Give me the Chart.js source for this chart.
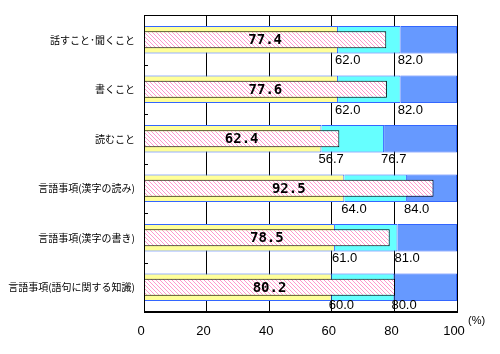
<!DOCTYPE html>
<html>
<head>
<meta charset="utf-8">
<script src="https://cdn.jsdelivr.net/npm/chart.js@4.4.1/dist/chart.umd.min.js"></script>
<style>
html,body{margin:0;padding:0;background:#fff;}
#wrap{width:500px;height:354px;position:relative;}
</style>
</head>
<body>
<div id="wrap"><canvas id="c" width="500" height="354"></canvas></div>
<script>
const categories = ['話すこと･聞くこと','書くこと','読むこと','言語事項(漢字の読み)','言語事項(漢字の書き)','言語事項(語句に関する知識)'];
const scores = [77.4, 77.6, 62.4, 92.5, 78.5, 80.2];
const lowerBounds = [62.0, 62.0, 56.7, 64.0, 61.0, 60.0];
const upperBounds = [82.0, 82.0, 76.7, 84.0, 81.0, 80.0];
const xTicks = [0, 20, 40, 60, 80, 100];
const unitLabel = '(%)';

function hatch() {
  const p = document.createElement('canvas');
  p.width = 4; p.height = 4;
  const g = p.getContext('2d');
  g.fillStyle = '#ffffff'; g.fillRect(0, 0, 4, 4);
  g.fillStyle = '#ff99cc';
  for (let i = 0; i < 4; i++) g.fillRect(i, i, 1, 1);
  return g.createPattern(p, 'repeat');
}
const ctx0 = document.getElementById('c').getContext('2d');

const BAND_BORDER = '#3366ff';
const bandPct = 0.555;

const overlay = {
  id: 'overlay',
  afterDatasetsDraw(chart) {
    const {ctx, chartArea: a, scales: {x, y}} = chart;
    const slot = (a.bottom - a.top) / categories.length;
    ctx.save();
    // frame
    ctx.strokeStyle = '#000'; ctx.lineWidth = 1;
    ctx.strokeRect(Math.round(a.left) + 0.5, Math.round(a.top) + 0.5,
                   Math.round(a.right - a.left), Math.round(a.bottom - a.top) - 1);
    // inner tick marks on category boundaries
    for (let i = 1; i < categories.length; i++) {
      const yy = Math.round(a.top + i * slot) + 0.5;
      ctx.beginPath(); ctx.moveTo(a.left, yy); ctx.lineTo(a.left + 4, yy); ctx.stroke();
    }
    // score labels inside hatched bars
    ctx.fillStyle = '#000';
    ctx.font = 'bold 14px "DejaVu Sans Mono"';
    ctx.textAlign = 'center'; ctx.textBaseline = 'middle';
    scores.forEach((v, i) => {
      const cx = (x.getPixelForValue(0) + x.getPixelForValue(v)) / 2;
      ctx.fillText(v.toFixed(1), cx, y.getPixelForValue(i) + 1);
    });
    // bound labels below bands
    ctx.font = '13px "Liberation Sans"';
    ctx.textAlign = 'left';
    lowerBounds.forEach((lo, i) => {
      const yy = Math.min(y.getPixelForValue(i) + slot / 2 - 4, a.bottom - 7);
      ctx.fillText(lo.toFixed(1), x.getPixelForValue(lo) - 3, yy);
      ctx.fillText(upperBounds[i].toFixed(1), x.getPixelForValue(upperBounds[i]) - 3, yy);
    });
    // unit
    ctx.font = '11px "Liberation Sans"';
    ctx.fillText(unitLabel, a.right + 11, a.bottom + 9);
    ctx.restore();
  }
};

new Chart(ctx0, {
  type: 'bar',
  data: {
    labels: categories,
    datasets: [
      {
        label: 'score', data: scores, order: 0, grouped: false,
        backgroundColor: hatch(), borderColor: '#000', borderWidth: 1,
        barPercentage: 0.34, categoryPercentage: 1
      },
      {
        label: 'low', data: lowerBounds.map(v => [0, v]), order: 1, grouped: false,
        backgroundColor: '#ffff99', borderColor: BAND_BORDER, borderWidth: 1,
        barPercentage: bandPct, categoryPercentage: 1
      },
      {
        label: 'mid', data: lowerBounds.map((v, i) => [v, upperBounds[i]]), order: 1, grouped: false,
        backgroundColor: '#66ffff', borderColor: BAND_BORDER, borderWidth: 1,
        barPercentage: bandPct, categoryPercentage: 1
      },
      {
        label: 'high', data: upperBounds.map(v => [v, 100]), order: 1, grouped: false,
        backgroundColor: '#6699ff', borderColor: BAND_BORDER, borderWidth: 1,
        barPercentage: bandPct, categoryPercentage: 1
      }
    ]
  },
  options: {
    indexAxis: 'y',
    responsive: false,
    animation: false,
    layout: { padding: { left: 0, top: 9, right: 43, bottom: 0 } },
    plugins: { legend: { display: false }, tooltip: { enabled: false } },
    scales: {
      x: {
        min: 0, max: 100,
        afterBuildTicks: s => { s.ticks = xTicks.map(v => ({ value: v })); },
        afterFit: s => { s.height = 42; },
        grid: { color: '#000', lineWidth: 1, drawTicks: false },
        border: { color: '#000' },
        ticks: { color: '#000', font: { family: 'Liberation Sans', size: 13 }, padding: 12, labelOffset: -3, maxRotation: 0 }
      },
      y: {
        afterFit: s => { s.width = 144; },
        grid: { display: false, drawTicks: false },
        border: { color: '#000' },
        ticks: { color: '#000', font: { family: 'Noto Sans CJK JP', size: 10 }, padding: 9, autoSkip: false }
      }
    }
  },
  plugins: [overlay]
});
</script>
</body>
</html>
